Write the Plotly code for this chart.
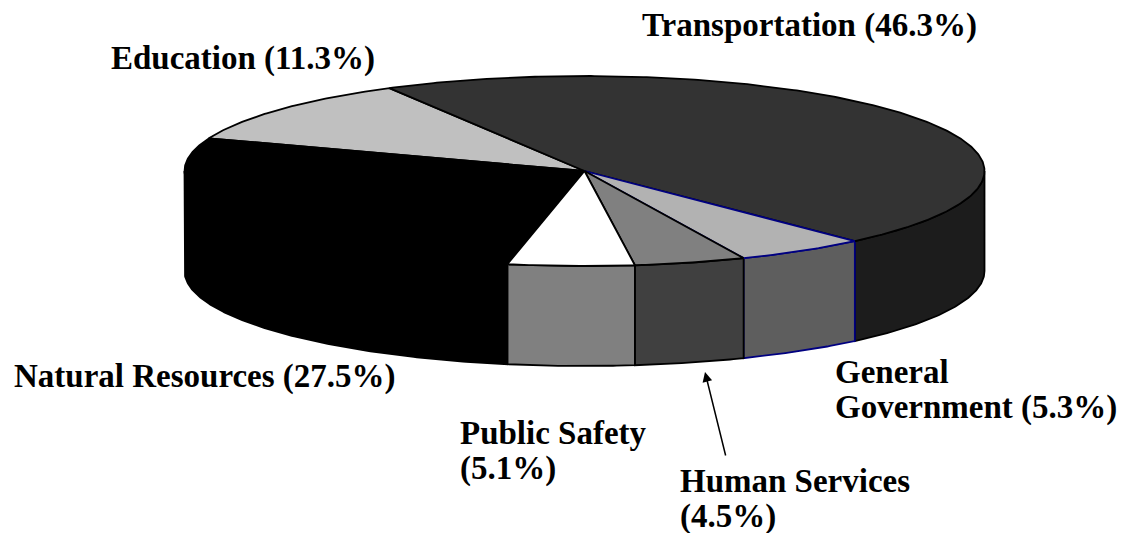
import numpy as np
import plotly.graph_objects as go

# ---- data ----
categories = ["Transportation", "General Government", "Human Services",
              "Public Safety", "Natural Resources", "Education"]
shares = [46.3, 5.3, 4.5, 5.1, 27.5, 11.3]

# ---- style ----
top_colors = ["#333333", "#b2b2b2", "#808080", "#ffffff", "#000000", "#c0c0c0"]
side_colors = ["#1c1c1c", "#5e5e5e", "#404040", "#808080", "#000000", "#909090"]
edge_colors = ["#000000", "#000080", "#000000", "#000000", "#000000", "#000000"]

W, H = 1125, 533
CX, CY, RX, RY, DEPTH = 584.5, 171.0, 400.0, 95.0, 100.0
START_ANGLE = 119.2  # degrees, slices run clockwise

FONT = dict(family="Liberation Serif, Times New Roman, serif", size=33,
            color="black", weight="bold")


def pt(phi, dz=0.0):
    r = np.radians(phi)
    return CX + RX * np.cos(r), CY - RY * np.sin(r) + dz


def arc(a, b, dz=0.0, n=None):
    n = n or max(4, int(abs(a - b) * 2))
    ph = np.linspace(a, b, n)
    xs, ys = pt(ph, dz)
    return list(xs), list(ys)


# angular ranges
total = float(sum(shares))
bounds = []
cur = START_ANGLE
for v in shares:
    nxt = cur - v / total * 360.0
    bounds.append((cur, nxt))
    cur = nxt

fig = go.Figure()


def add_poly(xs, ys, fill, edge, name):
    fig.add_trace(go.Scatter(
        x=xs + [xs[0]], y=ys + [ys[0]], mode="lines", fill="toself",
        fillcolor=fill, line=dict(color=edge, width=1.8),
        hoverinfo="skip", showlegend=False, name=name))


# side walls (front half only)
side_order = [0, 1, 2, 3, 4, 5]
for i in side_order:
    a, b = bounds[i]
    for k in (-1, 0, 1):
        lo, hi = -180 + 360 * k, 0 + 360 * k
        s, e = min(a, hi), max(b, lo)
        if s > e:
            tx, ty = arc(s, e)
            bx, by = arc(e, s, DEPTH)
            add_poly(tx + bx, ty + by, side_colors[i], edge_colors[i], categories[i])

# top faces
top_order = [5, 0, 4, 1, 2, 3]
for i in top_order:
    a, b = bounds[i]
    ax_, ay_ = arc(a, b)
    add_poly([CX] + ax_, [CY] + ay_, top_colors[i], edge_colors[i], categories[i])

# labels
label_layout = {
    "Transportation": dict(x=640, y=[25], split=False),
    "Education": dict(x=109, y=[58], split=False),
    "Natural Resources": dict(x=12, y=[376], split=False),
    "Public Safety": dict(x=458, y=[433, 468], split=True),
    "General Government": dict(x=833, y=[372, 407], split="word"),
    "Human Services": dict(x=678, y=[481, 516], split=True),
}
for name, v in zip(categories, shares):
    lay = label_layout[name]
    pct = f"({v}%)"
    if lay["split"] is False:
        lines = [f"{name} {pct}"]
    elif lay["split"] == "word":
        first, rest = name.split(" ", 1)
        lines = [first, f"{rest} {pct}"]
    else:
        lines = [name, pct]
    for txt, yy in zip(lines, lay["y"]):
        fig.add_annotation(x=lay["x"], y=yy, xref="x", yref="y", text=txt,
                           showarrow=False, xanchor="left", yanchor="middle",
                           font=FONT)

# leader arrow for Human Services
fig.add_annotation(x=705, y=372, ax=726, ay=457, xref="x", yref="y",
                   axref="x", ayref="y", text="", showarrow=True,
                   arrowhead=2, arrowsize=1.3, arrowwidth=1.5, arrowcolor="black")

fig.update_layout(
    width=W, height=H, autosize=False,
    margin=dict(l=0, r=0, t=0, b=0),
    paper_bgcolor="white", plot_bgcolor="white",
    xaxis=dict(range=[0, W], visible=False, fixedrange=True),
    yaxis=dict(range=[H, 0], visible=False, fixedrange=True),
)

fig.write_html("out.html", post_script="document.body.style.margin='0';",
               config={"displayModeBar": False})
